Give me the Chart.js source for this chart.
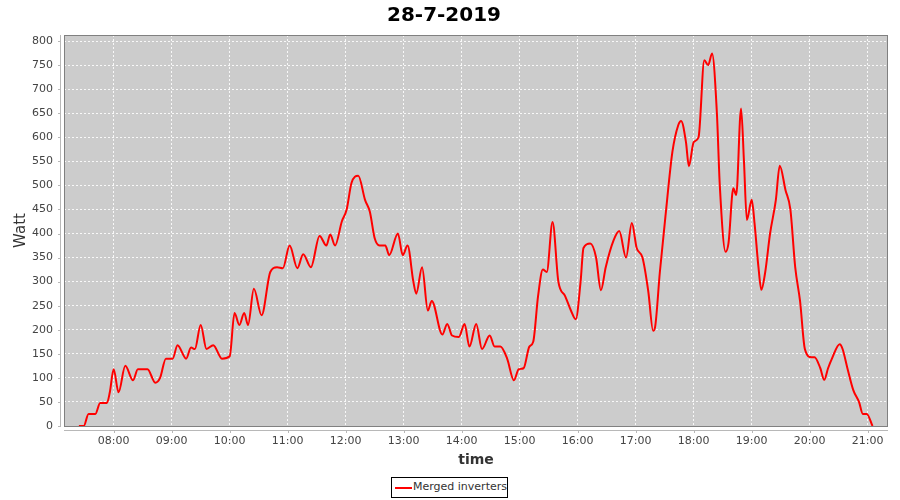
<!DOCTYPE html>
<html>
<head>
<meta charset="utf-8">
<script src="https://cdn.jsdelivr.net/npm/chart.js@4.4.1/dist/chart.umd.min.js"></script>
<style>
  body { margin: 0; background: #fff; }
  #wrap { position: relative; width: 900px; height: 500px; }
  #legend {
    position: absolute; left: 391px; top: 477px; width: 115px; height: 19px;
    border: 1px solid #000; background: #fff;
    font: 11px "DejaVu Sans", sans-serif; color: #333;
  }
  #legend .swatch { position: absolute; left: 3px; top: 9px; width: 17px; height: 2px; background: #ff0000; }
  #legend .txt { position: absolute; left: 21px; top: 2px; white-space: nowrap; }
</style>
</head>
<body>
<div id="wrap">
  <canvas id="power-chart" width="900" height="500"></canvas>
  <div id="legend"><span class="swatch"></span><span class="txt">Merged inverters</span></div>
</div>
<script>
var chartTitle = '28-7-2019';
var seriesName = 'Merged inverters';

// sample times (HH:MM) and merged output in Watt
var times = ['07:24','07:29','07:34','07:41','07:46','07:53','07:56','08:00','08:05','08:12',
  '08:20','08:25','08:35','08:43','08:48','08:54','09:01','09:06','09:15','09:20',
  '09:24','09:30','09:36','09:43','09:52','10:00','10:05','10:10','10:15','10:19',
  '10:25','10:33','10:42','10:49','10:55','11:02','11:10','11:16','11:24','11:33',
  '11:40','11:44','11:49','11:56','12:01','12:06','12:13','12:20','12:25','12:30',
  '12:35','12:41','12:45','12:54','12:59','13:04','13:10','13:13','13:19','13:25',
  '13:29','13:40','13:45','13:50','13:57','14:03','14:08','14:15','14:21','14:29',
  '14:34','14:40','14:47','14:54','14:59','15:04','15:10','15:14','15:19','15:24',
  '15:28','15:34','15:40','15:47','15:53','15:58','16:03','16:06','16:13','16:19',
  '16:24','16:29','16:37','16:43','16:50','16:56','17:01','17:07','17:13','17:18',
  '17:20','17:25','17:31','17:38','17:44','17:47','17:52','17:55','18:00','18:05',
  '18:11','18:15','18:19','18:24','18:27','18:33','18:36','18:41','18:44','18:49',
  '18:52','18:55','19:00','19:03','19:07','19:10','19:14','19:19','19:25','19:29',
  '19:35','19:40','19:45','19:50','19:55','20:02','20:05','20:11','20:15','20:19',
  '20:23','20:31','20:34','20:39','20:45','20:51','20:55','20:59','21:05'];
var watts = [0,0,25,25,48,48,70,118,70,125,
  95,118,118,90,100,140,140,168,140,163,
  160,210,160,168,140,145,235,210,235,210,
  285,230,320,330,328,375,328,357,330,395,
  375,398,375,425,450,505,520,470,445,390,
  375,375,355,400,355,375,300,275,330,240,
  260,190,212,188,185,212,165,212,160,188,
  165,165,140,95,118,120,165,175,270,325,
  320,424,300,270,240,222,300,370,379,350,
  282,330,385,405,350,422,370,350,280,198,
  205,320,440,570,625,634,590,540,590,600,
  760,750,774,650,500,362,380,494,480,660,
  550,428,470,420,330,283,320,400,470,541,
  490,450,330,260,160,143,143,120,96,120,
  140,170,160,120,75,50,25,25,0];

var hourTicks = [8,9,10,11,12,13,14,15,16,17,18,19,20,21];
var wattTicks = [0,50,100,150,200,250,300,350,400,450,500,550,600,650,700,750,800];

function toMinutes(s) {
    var p = s.split(':');
    return parseInt(p[0], 10) * 60 + parseInt(p[1], 10);
}
function fmtTime(m) {
    var h = Math.floor(m / 60), mm = Math.round(m % 60);
    return (h < 10 ? '0' : '') + h + ':' + (mm < 10 ? '0' : '') + mm;
}

var points = [];
for (var i = 0; i < times.length; i++) {
    points.push({ x: toMinutes(times[i]), y: watts[i] });
}

var tickFont = { family: 'DejaVu Sans', size: 11 };

// grey plot area, outline and offset axis lines like the original
var plotFrame = {
    id: 'plotFrame',
    beforeDraw: function (chart) {
        var ctx = chart.ctx, a = chart.chartArea;
        ctx.save();
        ctx.fillStyle = '#ffffff';
        ctx.fillRect(0, 0, chart.width, chart.height);
        ctx.fillStyle = '#cccccc';
        ctx.fillRect(a.left, a.top, a.right - a.left, a.bottom - a.top);
        ctx.restore();
    },
    afterDraw: function (chart) {
        var ctx = chart.ctx, a = chart.chartArea;
        var xs = chart.scales.x, ys = chart.scales.y;
        ctx.save();
        ctx.strokeStyle = '#808080';
        ctx.lineWidth = 1;
        ctx.strokeRect(a.left + 0.5, a.top + 0.5, a.right - a.left - 1, a.bottom - a.top);

        ctx.strokeStyle = '#b8b8b8';
        ctx.beginPath();
        ctx.moveTo(a.left - 3.5, a.top);
        ctx.lineTo(a.left - 3.5, a.bottom + 1);
        wattTicks.forEach(function (v) {
            var y = Math.round(ys.getPixelForValue(v)) + 0.5;
            ctx.moveTo(a.left - 6, y);
            ctx.lineTo(a.left - 3, y);
        });
        ctx.moveTo(a.left, a.bottom + 4.5);
        ctx.lineTo(a.right, a.bottom + 4.5);
        hourTicks.forEach(function (h) {
            var x = Math.round(xs.getPixelForValue(h * 60)) + 0.5;
            ctx.moveTo(x, a.bottom + 4);
            ctx.lineTo(x, a.bottom + 7);
        });
        ctx.stroke();
        ctx.restore();
    }
};

var ctx = document.getElementById('power-chart').getContext('2d');
var chart = new Chart(ctx, {
    type: 'line',
    data: {
        datasets: [{
            label: seriesName,
            data: points,
            borderColor: '#ff0000',
            backgroundColor: '#ff0000',
            borderWidth: 2,
            pointRadius: 0,
            cubicInterpolationMode: 'monotone',
            fill: false
        }]
    },
    options: {
        responsive: false,
        animation: false,
        layout: { padding: { left: 0, right: 12, top: 0, bottom: 0 } },
        plugins: {
            legend: { display: false },
            tooltip: { enabled: false },
            title: {
                display: true,
                text: chartTitle,
                color: '#000',
                font: { family: 'DejaVu Sans', size: 20, weight: 'bold' },
                padding: { top: 4, bottom: 7 }
            }
        },
        scales: {
            x: {
                type: 'linear',
                min: 428.6,
                max: 1281,
                afterBuildTicks: function (scale) {
                    scale.ticks = hourTicks.map(function (h) { return { value: h * 60 }; });
                },
                afterFit: function (scale) { scale.height = 74; },
                ticks: {
                    color: '#444',
                    font: tickFont,
                    padding: 9,
                    maxRotation: 0,
                    autoSkip: false,
                    callback: function (v) { return fmtTime(v); }
                },
                grid: {
                    color: 'rgba(255,255,255,0.85)',
                    drawTicks: false
                },
                border: { display: false, dash: [2, 2] },
                title: {
                    display: true,
                    text: 'time',
                    color: '#333',
                    font: { family: 'DejaVu Sans', size: 14, weight: 'bold' },
                    padding: { top: 0, bottom: 31 }
                }
            },
            y: {
                type: 'linear',
                min: 0,
                max: 812.5,
                afterBuildTicks: function (scale) {
                    scale.ticks = wattTicks.map(function (v) { return { value: v }; });
                },
                afterFit: function (scale) { scale.width = 64; },
                ticks: {
                    color: '#444',
                    font: tickFont,
                    padding: 11,
                    callback: function (v) { return String(v); }
                },
                grid: {
                    color: 'rgba(255,255,255,0.85)',
                    drawTicks: false
                },
                border: { display: false, dash: [2, 2] },
                title: {
                    display: true,
                    text: 'Watt',
                    color: '#333',
                    font: { family: 'DejaVu Sans', size: 15 },
                    padding: { top: 12, bottom: 0 }
                }
            }
        }
    },
    plugins: [plotFrame]
});
</script>
</body>
</html>
